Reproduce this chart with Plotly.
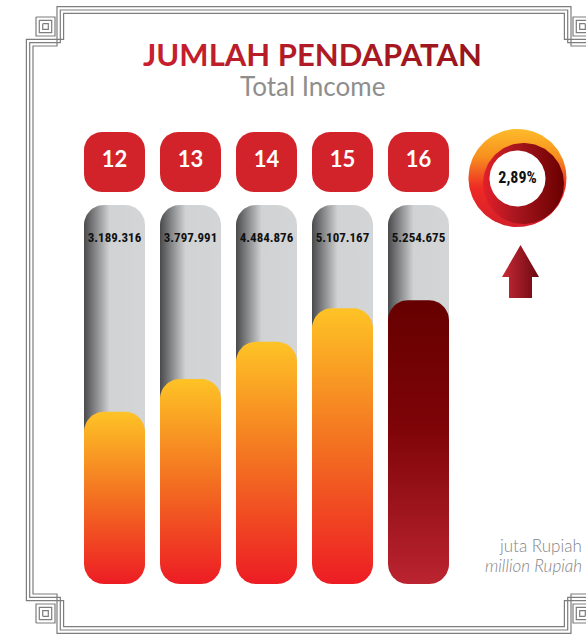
import numpy as np
import plotly.graph_objects as go

# ---------------- data ----------------
years = ["12", "13", "14", "15", "16"]
income = [3189316, 3797991, 4484876, 5107167, 5254675]   # juta Rupiah
title_id = "JUMLAH PENDAPATAN"
title_en = "Total Income"
unit_id = "juta Rupiah"
unit_en = "million Rupiah"

# ---------------- layout constants (pixels) ----------------
W, H = 586, 638
X0_PX, STEP_PX, BAR_PX = 114.5, 76.0, 61.0
BASE_PX = 584.0
PX_PER_UNIT = 54.0 / 1e6
TUBE_TOP_PX = 205.0
R_PX = 20.0

x_range = [-X0_PX / STEP_PX, (W - X0_PX) / STEP_PX]
y_range = [-(H - BASE_PX) / PX_PER_UNIT, BASE_PX / PX_PER_UNIT]
bw = BAR_PX / STEP_PX
rx = R_PX / STEP_PX
ry = R_PX / PX_PER_UNIT

NARROW = "Liberation Sans Narrow, Roboto Condensed, Roboto"


def px2y(py):
    return (BASE_PX - py) / PX_PER_UNIT


def rrect(x0, x1, y0, y1, rx, ry, n=14):
    xs, ys = [], []
    for cx, cy, a0 in [(x1 - rx, y0 + ry, -90), (x1 - rx, y1 - ry, 0),
                       (x0 + rx, y1 - ry, 90), (x0 + rx, y0 + ry, 180)]:
        for a in np.linspace(a0, a0 + 90, n):
            t = np.radians(a)
            xs.append(cx + rx * np.cos(t))
            ys.append(cy + ry * np.sin(t))
    xs.append(xs[0]); ys.append(ys[0])
    return xs, ys


def circle(cx, cy, r, n=120):
    t = np.linspace(0, 2 * np.pi, n)
    return list(cx + r * np.cos(t)), list(H - (cy + r * np.sin(t)))


fig = go.Figure()

warm = [[0, "#ed1c24"], [0.5, "#f37021"], [1, "#fec326"]]
dark = [[0, "#bb2430"], [0.55, "#7e0408"], [1, "#660000"]]
grey = [[0, "#4a4a4c"], [0.42, "#d0d2d3"], [1, "#d3d5d6"]]

tube_top = px2y(TUBE_TOP_PX)
for i, v in enumerate(income):
    xs, ys = rrect(i - bw / 2, i + bw / 2, ry * 1.2, tube_top, rx, ry)
    fig.add_trace(go.Scatter(x=xs, y=ys, fill="toself", mode="lines",
                             line=dict(width=0), fillcolor="#d0d2d3",
                             fillgradient=dict(type="horizontal", colorscale=grey)))
for i, v in enumerate(income):
    xs, ys = rrect(i - bw / 2, i + bw / 2, 0, v, rx, ry)
    cs = dark if i == len(income) - 1 else warm
    fig.add_trace(go.Scatter(x=xs, y=ys, fill="toself", mode="lines",
                             line=dict(width=0), fillcolor=cs[0][1],
                             fillgradient=dict(type="vertical", colorscale=cs)))
    xs, ys = rrect(i - bw / 2, i + bw / 2, px2y(192), px2y(132), 18 / STEP_PX, 18 / PX_PER_UNIT)
    fig.add_trace(go.Scatter(x=xs, y=ys, fill="toself", mode="lines",
                             line=dict(width=0), fillcolor="#d2232a"))

idx = list(range(len(income)))
fig.add_trace(go.Scatter(x=idx, y=[px2y(161)] * len(idx), mode="text", text=years,
                         textfont=dict(family="Lato", size=22, color="white", weight="bold")))
fig.add_trace(go.Scatter(x=idx, y=[px2y(239)] * len(idx), mode="text",
                         text=[f"{v:,}".replace(",", ".") for v in income],
                         textfont=dict(family=NARROW, size=13, color="#111111", weight="bold")))

# ---------------- overlay decorations (pixel axes) ----------------
ov = dict(xaxis="x2", yaxis="y2")

# frame
XC, YC, d = 314.0, 320.0, 3.3
quad = []
for k in range(3):
    quad.append([(XC, 6.7 + d * k), (57 + d * k, 6.7 + d * k), (57 + d * k, 46 - d * k),
                 (33 - d * k, 46 - d * k), (33 - d * k, YC)])
for s in [9.5, 6.2, 2.8]:
    quad.append([(45.5 - s, 26.5 - s), (45.5 + s, 26.5 - s), (45.5 + s, 26.5 + s),
                 (45.5 - s, 26.5 + s), (45.5 - s, 26.5 - s)])
fx, fy = [], []
for mx in (False, True):
    for my in (False, True):
        for path in quad:
            for (px, py) in path:
                px2 = 2 * XC - px if mx else px
                py2 = 2 * YC - py if my else py
                fx.append(px2); fy.append(H - py2)
            fx.append(None); fy.append(None)
fig.add_trace(go.Scatter(x=fx, y=fy, mode="lines", line=dict(color="#7d7d7d", width=1.2), **ov))

# growth donut
growth = (income[-1] / income[-2] - 1) * 100
DCX, DCY = 517.5, 178.0
xs, ys = circle(DCX, DCY, 49)
fig.add_trace(go.Scatter(x=xs, y=ys, fill="toself", mode="lines", line=dict(width=0),
                         fillcolor="#f37021",
                         fillgradient=dict(type="vertical",
                                           colorscale=[[0, "#d41f2b"], [0.4, "#ee2a24"], [0.72, "#f7901e"], [1, "#fdbb2a"]]),
                         **ov))
xs, ys = circle(DCX + 6, DCY + 5.5, 40.5)
fig.add_trace(go.Scatter(x=xs, y=ys, fill="toself", mode="lines", line=dict(width=0),
                         fillcolor="#9a1018",
                         fillgradient=dict(type="horizontal",
                                           colorscale=[[0, "#e3202b"], [0.4, "#a8161e"], [1, "#6a0000"]]),
                         **ov))
xs, ys = circle(DCX, DCY + 0.5, 28)
fig.add_trace(go.Scatter(x=xs, y=ys, fill="toself", mode="lines", line=dict(width=0),
                         fillcolor="white", **ov))
fig.add_trace(go.Scatter(x=[DCX], y=[H - DCY - 1], mode="text",
                         text=[f"{growth:.2f}".replace(".", ",") + "%"],
                         textfont=dict(family=NARROW, size=16, color="#111111", weight="bold"), **ov))

# arrow
apts = [(502, 277), (520.5, 245), (539, 277), (532, 277), (532, 298), (509, 298), (509, 277), (502, 277)]
fig.add_trace(go.Scatter(x=[p[0] for p in apts], y=[H - p[1] for p in apts], fill="toself",
                         mode="lines", line=dict(width=0), fillcolor="#9a1822",
                         fillgradient=dict(type="horizontal",
                                           colorscale=[[0, "#c82a36"], [1, "#6a0810"]]),
                         **ov))

# title with a subtle left-to-right red gradient
c0, c1 = np.array([0xc8, 0x20, 0x2e]), np.array([0x9a, 0x16, 0x1e])
letters = []
n = len(title_id)
for j, ch in enumerate(title_id):
    c = (c0 + (c1 - c0) * j / (n - 1)).astype(int)
    letters.append(f"<span style='color:#{c[0]:02x}{c[1]:02x}{c[2]:02x}'>{ch}</span>")

ann = [
    dict(x=312 / W, y=1 - 54 / H, text="<b>" + "".join(letters) + "</b>",
         font=dict(family="Lato", size=31, color="#bb1e2c")),
    dict(x=312.5 / W, y=1 - 86 / H, text=title_en, font=dict(family="Lato", size=26, color="#8e8e8e")),
    dict(x=584 / W, y=1 - 545 / H, text=unit_id, xanchor="right",
         font=dict(family="Lato", size=17, color="#858585", weight=300)),
    dict(x=584 / W, y=1 - 565 / H, text=unit_en, xanchor="right",
         font=dict(family="Lato", size=17, color="#858585", style="italic", weight=300)),
]
for a in ann:
    a.setdefault("xanchor", "center")
    a.update(xref="paper", yref="paper", showarrow=False, yanchor="middle")

fig.update_layout(
    width=W, height=H, autosize=False, margin=dict(l=0, r=0, t=0, b=0, pad=0),
    paper_bgcolor="white", plot_bgcolor="white", showlegend=False,
    xaxis=dict(range=x_range, visible=False, fixedrange=True),
    yaxis=dict(range=y_range, visible=False, fixedrange=True),
    xaxis2=dict(range=[0, W], visible=False, overlaying="x", anchor="y2", fixedrange=True),
    yaxis2=dict(range=[0, H], visible=False, overlaying="y", anchor="x2", fixedrange=True),
    annotations=ann,
)
for t in fig.data:
    t.showlegend = False
    t.hoverinfo = "skip"

fig.write_html("out.html", config=dict(displayModeBar=False),
               post_script="document.body.style.margin='0px';document.body.style.overflow='hidden';")
